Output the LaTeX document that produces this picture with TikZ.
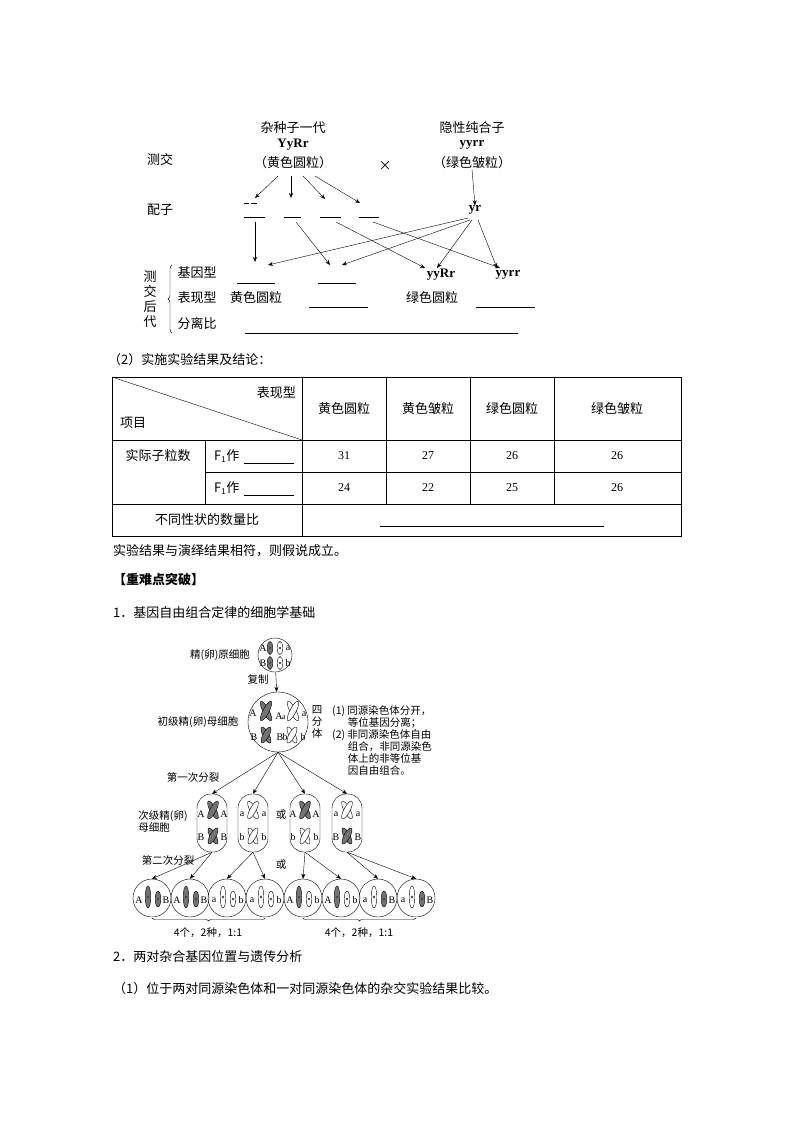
\documentclass[tikz,border=0pt]{standalone}
\usepackage{fontspec}
\setmainfont{Liberation Serif}
\newfontfamily\cjk{Noto Sans CJK SC}
\usetikzlibrary{arrows.meta,decorations.pathreplacing}
\newcommand\myX[4]{%
 \draw[fill=#3,rotate around={28:(#1,#2)}] (#1,#2) ellipse (3pt and #4pt);
 \draw[fill=#3,rotate around={-28:(#1,#2)}] (#1,#2) ellipse (3pt and #4pt);}
\newcommand\myRod[4]{%
 \draw[fill=#3] (#1,#2) ellipse (2.8pt and #4pt);
 \draw[fill=white] (#1,#2) circle (1.1pt);}
\tikzset{t/.style={font=\cjk\fontsize{13}{13}\selectfont,inner sep=0pt},
 s/.style={font=\cjk\fontsize{10.5}{12}\selectfont,inner sep=0pt},
 g/.style={font=\fontsize{10}{10}\selectfont,inner sep=0pt},
 ar/.style={-{Stealth[length=5pt,width=4pt]},thin},
 bl/.style={thin}}
\colorlet{dk}{black!55}
\begin{document}
\begin{tikzpicture}[x=1pt,y=-1pt]
\useasboundingbox (0,0) rectangle (794,1123);
% ---------- top diagram ----------
\node[t] (f1a) at (293,128) {杂种子一代};
\node[t,font=\bfseries\fontsize{13}{13}\selectfont] (f1b) at (293,145) {YyRr};
\node[t] (f1c) at (293,163) {（黄色圆粒）};
\node[t] (rca) at (472,128) {隐性纯合子};
\node[t,font=\bfseries\fontsize{13}{13}\selectfont] (rcb) at (472,145) {yyrr};
\node[t] (rcc) at (472,163) {（绿色皱粒）};
\node[t] (cj) at (160,160) {测交};
\node[t] (x) at (385,166) {×};
\node[t] (pz) at (160,210) {配子};
\node[t,font=\bfseries\fontsize{13}{13}\selectfont] (yr) at (475,210) {yr};
\draw[ar] (278,176) -- (255,198);
\draw[ar] (291,176) -- (291,198);
\draw[ar] (303,176) -- (325,199);
\draw[ar] (315,176) -- (360,203);
\draw[ar] (rcc.south) -- (yr.north);
\draw[bl] (244,203) -- (249,203) (251,203) -- (257,203);
\draw[bl] (244,217) -- (265,217) (284,217) -- (301,217) (320,217) -- (341,217) (359,217) -- (379,217);
\draw[ar] (255,222) -- (255,262);
\draw[ar] (296,222) -- (330,265);
\draw[ar] (336,222) -- (425,268);
\draw[ar] (373,222) -- (500,268);
\draw[ar] (468,218) -- (268,265);
\draw[ar] (470,220) -- (342,265);
\draw[ar] (472,220) -- (437,268);
\draw[ar] (478,220) -- (497,268);
\node[t] (jy) at (197,273) {基因型};
\node[t] (bx) at (197,298) {表现型};
\node[t] (fl) at (197,324) {分离比};
\node[t,align=center] (hd) at (150,299) {测\\[2pt]交\\[2pt]后\\[2pt]代};
\draw[decorate,decoration={brace,amplitude=4pt}] (172,333) -- (172,265);
\draw[bl] (237,283) -- (275,283) (318,283) -- (356,283);
\node[t,font=\bfseries\fontsize{13}{13}\selectfont] (g5) at (441,275) {yyRr};
\node[t,font=\bfseries\fontsize{13}{13}\selectfont] (g6) at (508,275) {yyrr};
\node[t] (p1) at (256,298) {黄色圆粒};
\node[t] (p3) at (432,298) {绿色圆粒};
\draw[bl] (309,307) -- (368,307) (476,307) -- (535,307);
\draw[bl] (245,333) -- (518,333);
% ---------- table ----------
\node[t,anchor=west] (sec2) at (108,360) {（2）实施实验结果及结论：};
\draw[thin] (112,377) rectangle (681,536);
\draw[thin] (302,377) -- (302,536) (386,377) -- (386,504) (470,377) -- (470,504) (554,377) -- (554,504);
\draw[thin] (112,440) -- (681,440) (205,472) -- (681,472) (112,504) -- (681,504) (205,440) -- (205,504);
\draw[thin] (112,377) -- (302,440);
\node[t,anchor=east] (bxh) at (296,393) {表现型};
\node[t,anchor=west] (xm) at (120,423) {项目};
\foreach \x/\s in {344/黄色圆粒,428/黄色皱粒,512/绿色圆粒,617/绿色皱粒} \node[t] at (\x,409) {\s};
\node[t] (sj) at (158,456) {实际子粒数};
\foreach \y in {456,488}{\node[t,anchor=west] at (214,\y) {F\textsubscript{\fontsize{8}{8}\selectfont 1}作}; \draw[thin] (244,\y+7) -- (294,\y+7);}
\foreach \x/\a/\b in {344/31/24,428/27/22,512/26/25,617/26/26}{\node[g,font=\fontsize{12}{12}\selectfont] at (\x,456) {\a}; \node[g,font=\fontsize{12}{12}\selectfont] at (\x,488) {\b};}
\node[t] (bt) at (207,520) {不同性状的数量比};
\draw[thin] (380,526) -- (604,526);
\node[t,anchor=west] (jl) at (113,551) {实验结果与演绎结果相符，则假说成立。};
\node[t,anchor=west,font=\cjk\bfseries\fontsize{13}{13}\selectfont] (zn) at (113,580) {【重难点突破】};
\node[t,anchor=west] (one) at (113,613) {1．基因自由组合定律的细胞学基础};
\node[t,anchor=west] (two) at (113,957) {2．两对杂合基因位置与遗传分析};
\node[t,anchor=west] (three) at (113,989) {（1）位于两对同源染色体和一对同源染色体的杂交实验结果比较。};
% ---------- cell diagram ----------
\node[draw,circle,minimum size=34pt,inner sep=0pt] (c0) at (275,655) {};
\myRod{270}{648}{dk}{6.5} \myRod{280}{648}{white}{6.5}
\myRod{270}{663}{dk}{6.5} \myRod{280}{663}{white}{6.5}
\node[g] at (263,648) {A}; \node[g] at (288,648) {a};
\node[g] at (263,663) {B}; \node[g] at (288,663) {b};
\node[s] (l0) at (220,655) {精(卵)原细胞};
\node[s] (l1) at (258,680) {复制};
\node[draw,circle,minimum size=60pt,inner sep=0pt] (c1) at (278,722) {};
\draw[ar] (c0) -- (c1);
\myX{266}{711}{dk}{11} \myX{293}{711}{white}{11}
\myX{266}{735}{dk}{9} \myX{292}{735}{white}{9}
\node[g] at (253,713) {A}; \node[g] at (279,716) {A}; \node[g,font=\fontsize{8}{8}\selectfont] at (284,718) {a}; \node[g] at (304,714) {a};
\node[g] at (254,737) {B}; \node[g] at (280,737) {B}; \node[g] at (285,737) {b}; \node[g] at (303,737) {b};
\node[s] (l2) at (198,722) {初级精(卵)母细胞};
\node[s,align=center] (l3) at (317,722) {四\\分\\体};
\node[s,anchor=north west,align=left] (ann) at (332,705) {(1) 同源染色体分开，\\\hspace{1.5em}等位基因分离；\\(2) 非同源染色体自由\\\hspace{1.5em}组合，非同源染色\\\hspace{1.5em}体上的非等位基\\\hspace{1.5em}因自由组合。};
\node[s] (l4) at (193,777) {第一次分裂};
\foreach \i/\x in {1/212,2/253,3/305,4/347}{
 \node[draw,rounded corners=14pt,minimum width=30pt,minimum height=58pt,inner sep=0pt] (o\i) at (\x,823) {};
 \draw[ar] (c1.south) -- (o\i.north);}
\myX{213}{810}{dk}{10} \myX{213}{836}{dk}{9}
\node[g] at (201,814) {A}; \node[g] at (224,814) {A}; \node[g] at (201,837) {B}; \node[g] at (224,837) {B};
\myX{253}{810}{white}{10} \myX{253}{836}{white}{9}
\node[g] at (242,814) {a}; \node[g] at (264,814) {a}; \node[g] at (242,837) {b}; \node[g] at (264,837) {b};
\myX{305}{810}{dk}{10} \myX{305}{836}{white}{9}
\node[g] at (293,814) {A}; \node[g] at (316,814) {A}; \node[g] at (293,837) {b}; \node[g] at (316,837) {b};
\myX{347}{810}{white}{10} \myX{347}{836}{dk}{9}
\node[g] at (336,814) {a}; \node[g] at (358,814) {a}; \node[g] at (336,837) {B}; \node[g] at (358,837) {B};
\node[s,align=left] (l5) at (163,822) {次级精(卵)\\母细胞};
\node[s] (h1) at (281,815) {或};
\node[s] (h2) at (281,865) {或};
\node[s] (l6) at (168,860) {第二次分裂};
\foreach \i/\x/\fa/\la/\fb/\lb in {1/152/dk/A/dk/B,2/190/dk/A/dk/B,3/227/white/a/white/b,4/265/white/a/white/b,5/303/dk/A/white/b,6/341/dk/A/white/b,7/378/white/a/dk/B,8/416/white/a/dk/B}{
 \node[draw,circle,minimum size=38pt,inner sep=0pt] (d\i) at (\x,898) {};
 \myRod{\x-4}{897}{\fa}{11} \myRod{\x+6}{899}{\fb}{8}
 \node[g] at (\x-13,900) {\la}; \node[g] at (\x+14,900) {\lb};}
\draw[ar] (o1.south) -- (d1.north); \draw[ar] (o1.south) -- (d2.north);
\draw[ar] (o2.south) -- (d3.north); \draw[ar] (o2.south) -- (d4.north);
\draw[ar] (o3.south) -- (d5.north); \draw[ar] (o3.south) -- (d6.north);
\draw[ar] (o4.south) -- (d7.north); \draw[ar] (o4.south) -- (d8.north);
\draw[decorate,decoration={brace,amplitude=3pt,mirror}] (152,918) -- (265,918);
\draw[decorate,decoration={brace,amplitude=3pt,mirror}] (303,918) -- (416,918);
\node[s] (r1) at (208,933) {4个，2种，1:1};
\node[s] (r2) at (359,933) {4个，2种，1:1};
\end{tikzpicture}
\end{document}
